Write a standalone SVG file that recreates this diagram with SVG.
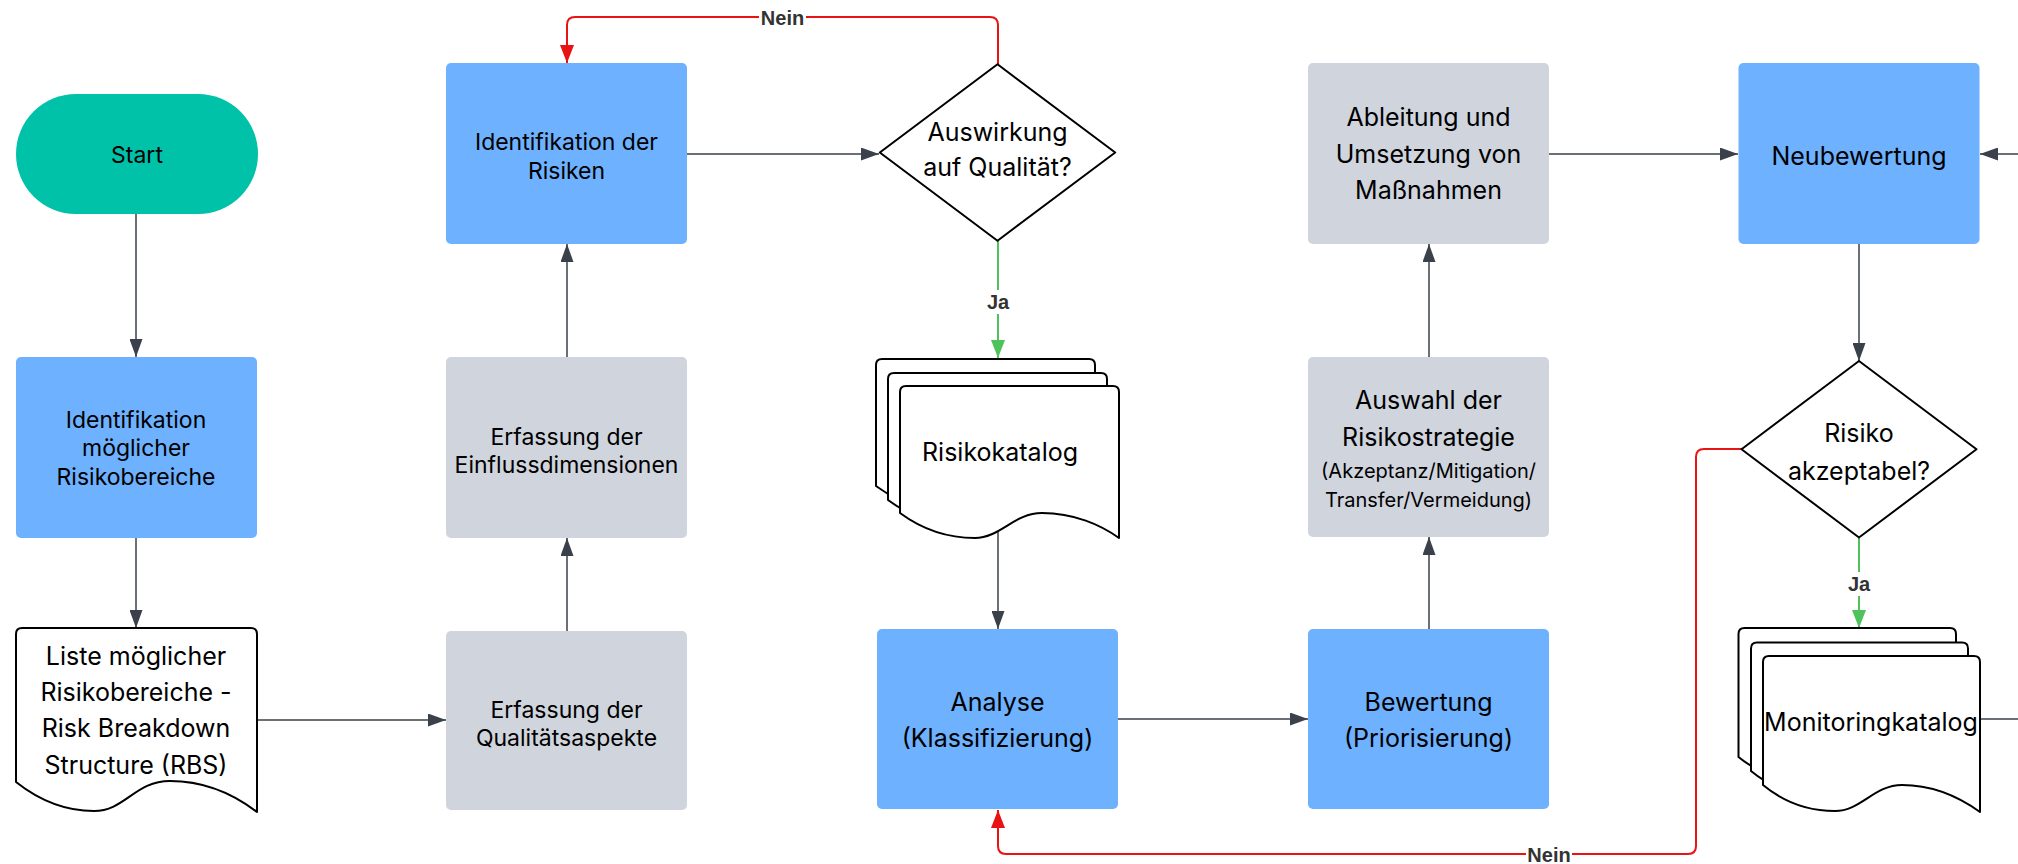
<svg xmlns="http://www.w3.org/2000/svg" width="2018" height="864" viewBox="0 0 2018 864">
<style>
.blue{fill:#6DB1FF}
.gray{fill:#CFD4DD}
.term{fill:#00C2A8}
.doc{fill:#FFFFFF;stroke:#000000;stroke-width:2;stroke-linejoin:round}
.dia{fill:#FFFFFF;stroke:#000000;stroke-width:2;stroke-linejoin:round}
.t{font-family:Inter,"Liberation Sans",sans-serif;fill:#000000;text-anchor:middle}
.s23{font-size:23px}
.s25{font-size:25px}
.s20{font-size:20px}
.ln{fill:none;stroke:#3A414A;stroke-width:1.5}
.red{fill:none;stroke:#E81313;stroke-width:2}
.grn{fill:none;stroke:#4FC35B;stroke-width:2}
.lbl{font-family:"Liberation Sans",Arial,sans-serif;font-weight:bold;font-size:20px;fill:#333333;text-anchor:middle}
.bg{fill:#FFFFFF}
</style>
<defs>
<marker id="ad" markerUnits="userSpaceOnUse" markerWidth="18" markerHeight="13" refX="18" refY="6.5" orient="auto"><path d="M0,0 L18,6.5 L0,13 z" fill="#3A414A"/></marker>
<marker id="ar" markerUnits="userSpaceOnUse" markerWidth="18" markerHeight="14" refX="18" refY="7" orient="auto"><path d="M0,0 L18,7 L0,14 z" fill="#E81313"/></marker>
<marker id="ag" markerUnits="userSpaceOnUse" markerWidth="18" markerHeight="14" refX="18" refY="7" orient="auto"><path d="M0,0 L18,7 L0,14 z" fill="#4FC35B"/></marker>
</defs>

<g id="connectors">
<path class="ln" d="M136,214 V357" marker-end="url(#ad)"/>
<path class="ln" d="M136,538 V628" marker-end="url(#ad)"/>
<path class="ln" d="M257,720 H446" marker-end="url(#ad)"/>
<path class="ln" d="M567,631 V538" marker-end="url(#ad)"/>
<path class="ln" d="M567,357 V244" marker-end="url(#ad)"/>
<path class="ln" d="M687,154 H879" marker-end="url(#ad)"/>
<path class="red" d="M998,64 V25 Q998,17 990,17 H575 Q567,17 567,25 V63" marker-end="url(#ar)"/>
<path class="grn" d="M998,241 V358" marker-end="url(#ag)"/>
<path class="ln" d="M998,532 V629" marker-end="url(#ad)"/>
<path class="ln" d="M1118,719 H1308" marker-end="url(#ad)"/>
<path class="ln" d="M1429,629 V537" marker-end="url(#ad)"/>
<path class="ln" d="M1429,357 V244" marker-end="url(#ad)"/>
<path class="ln" d="M1549,154 H1738" marker-end="url(#ad)"/>
<path class="ln" d="M1859,244 V361" marker-end="url(#ad)"/>
<path class="red" d="M1742,449 H1704 Q1696,449 1696,457 V846 Q1696,854 1688,854 H1006 Q998,854 998,846 V810" marker-end="url(#ar)"/>
<path class="grn" d="M1859,538 V628" marker-end="url(#ag)"/>
<path class="ln" d="M1980,719 H2060 V154 H1980" marker-end="url(#ad)"/>
<rect class="bg" x="759" y="6" width="47" height="24"/>
<text class="lbl" x="782.5" y="25">Nein</text>
<rect class="bg" x="985" y="290" width="26" height="24"/>
<text class="lbl" x="998" y="309">Ja</text>
<rect class="bg" x="1526" y="843" width="46" height="24"/>
<text class="lbl" x="1549" y="861.5">Nein</text>
<rect class="bg" x="1846" y="572" width="26" height="24"/>
<text class="lbl" x="1859" y="591">Ja</text>
</g>

<g id="start">
<rect class="term" x="16" y="94" width="242" height="120" rx="60" ry="60"/>
<text class="t s23" x="137" y="163">Start</text>
</g>

<g id="ident-moeglicher">
<rect class="blue" x="16" y="357" width="241" height="181" rx="5"/>
<text class="t s23" x="136" y="427.5">Identifikation</text>
<text class="t s23" x="136" y="456">möglicher</text>
<text class="t s23" x="136" y="484.5">Risikobereiche</text>
</g>

<g id="liste">
<path class="doc" d="M16,634 Q16,628 22,628 H251 Q257,628 257,634 V812 C240,799 210,781 170,781 C135,781 125,811 94,811 C60,811 35,797 16,782 Z"/>
<text class="t s25" x="136" y="664.7">Liste möglicher</text>
<text class="t s25" x="136" y="700.7">Risikobereiche -</text>
<text class="t s25" x="136" y="737.3">Risk Breakdown</text>
<text class="t s25" x="136" y="774">Structure (RBS)</text>
</g>

<g id="qualitaet">
<rect class="gray" x="446" y="631" width="241" height="179" rx="5"/>
<text class="t s23" x="566.5" y="717.6">Erfassung der</text>
<text class="t s23" x="566.5" y="745.6">Qualitätsaspekte</text>
</g>

<g id="einfluss">
<rect class="gray" x="446" y="357" width="241" height="181" rx="5"/>
<text class="t s23" x="566.5" y="445">Erfassung der</text>
<text class="t s23" x="566.5" y="473.3">Einflussdimensionen</text>
</g>

<g id="ident-risiken">
<rect class="blue" x="446" y="63" width="241" height="181" rx="5"/>
<text class="t s23" x="566.5" y="150">Identifikation der</text>
<text class="t s23" x="566.5" y="179">Risiken</text>
</g>

<g id="auswirkung">
<polygon class="dia" points="879.8,152.5 997.5,64.3 1115.2,152.5 997.5,240.7"/>
<text class="t s25" x="997.5" y="140.7">Auswirkung</text>
<text class="t s25" x="997.5" y="175.7">auf Qualität?</text>
</g>

<g id="risikokatalog">
<path class="doc" d="M876,365 Q876,359 882,359 H1089 Q1095,359 1095,365 V511 C1077,498 1050,486 1018,486 C990,486 976,511 951,511 C920,511 895,500 876,486 Z"/>
<path class="doc" d="M888,379 Q888,373 894,373 H1101 Q1107,373 1107,379 V525 C1089,512 1062,500 1030,500 C1002,500 988,525 963,525 C932,525 907,514 888,500 Z"/>
<path class="doc" d="M900,392 Q900,386 906,386 H1113 Q1119,386 1119,392 V538 C1101,525 1074,513 1042,513 C1014,513 1000,538 975,538 C944,538 919,527 900,513 Z"/>
<text class="t s25" x="1000" y="460.7">Risikokatalog</text>
</g>

<g id="analyse">
<rect class="blue" x="877" y="629" width="241" height="180" rx="5"/>
<text class="t s25" x="997.5" y="710.7">Analyse</text>
<text class="t s25" x="997.5" y="747.3">(Klassifizierung)</text>
</g>

<g id="bewertung">
<rect class="blue" x="1308" y="629" width="241" height="180" rx="5"/>
<text class="t s25" x="1428.5" y="710.7">Bewertung</text>
<text class="t s25" x="1428.5" y="747.3">(Priorisierung)</text>
</g>

<g id="auswahl">
<rect class="gray" x="1308" y="357" width="241" height="180" rx="5"/>
<text class="t s25" x="1428.5" y="409">Auswahl der</text>
<text class="t s25" x="1428.5" y="445.7">Risikostrategie</text>
<text class="t s20" x="1428.5" y="477.9">(Akzeptanz/Mitigation/</text>
<text class="t s20" x="1428.5" y="506.5">Transfer/Vermeidung)</text>
</g>

<g id="ableitung">
<rect class="gray" x="1308" y="63" width="241" height="181" rx="5"/>
<text class="t s25" x="1428.5" y="126.3">Ableitung und</text>
<text class="t s25" x="1428.5" y="163">Umsetzung von</text>
<text class="t s25" x="1428.5" y="199">Maßnahmen</text>
</g>

<g id="neubewertung">
<rect class="blue" x="1738.5" y="63" width="241" height="181" rx="5"/>
<text class="t s25" x="1859" y="164.7">Neubewertung</text>
</g>

<g id="akzeptabel">
<polygon class="dia" points="1741.5,449.3 1859,361 1976.5,449.3 1859,537.5"/>
<text class="t s25" x="1859" y="442.3">Risiko</text>
<text class="t s25" x="1859" y="479.7">akzeptabel?</text>
</g>

<g id="monitoringkatalog">
<path class="doc" d="M1738.5,634 Q1738.5,628 1744.5,628 H1950 Q1956,628 1956,634 V784 C1938,771 1911,757 1878,757 C1850,757 1837,783 1811,783 C1780,783 1756,771 1738.5,757 Z"/>
<path class="doc" d="M1751,648.5 Q1751,642.5 1757,642.5 H1962 Q1968,642.5 1968,648.5 V798 C1950,785 1923,771 1890,771 C1862,771 1849,797 1823,797 C1792,797 1768,785 1751,771 Z"/>
<path class="doc" d="M1763,662 Q1763,656 1769,656 H1974 Q1980,656 1980,662 V812 C1962,799 1935,785 1902,785 C1874,785 1861,811 1835,811 C1804,811 1780,799 1763,785 Z"/>
<text class="t s25" x="1871" y="730.7">Monitoringkatalog</text>
</g>
</svg>
